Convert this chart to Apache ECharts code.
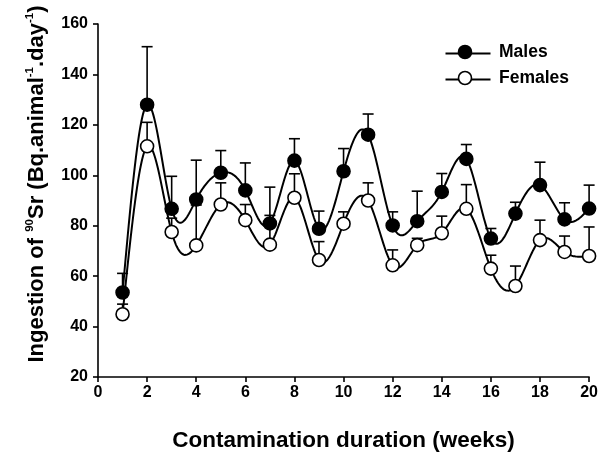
<!DOCTYPE html>
<html>
<head>
<meta charset="utf-8">
<style>
  html, body { margin: 0; padding: 0; background: #fff; }
  #chart { width: 601px; height: 457px; }
</style>
<script src="https://cdn.jsdelivr.net/npm/echarts@6/dist/echarts.min.js"></script>
</head>
<body>
<div id="chart"></div>
<script>
// Weekly 90Sr ingestion (mean and upper standard error) for male and female animals
var weeks = [1, 2, 3, 4, 5, 6, 7, 8, 9, 10, 11, 12, 13, 14, 15, 16, 17, 18, 19, 20];
var malesMean = [53.5, 128, 86.7, 90.4, 101, 94, 80.9, 105.8, 78.8, 101.6, 116.1, 80.1, 81.8, 93.4, 106.5, 74.9, 84.8, 96.1, 82.5, 86.8];
var malesErr = [7.6, 23, 12.9, 15.6, 8.8, 10.9, 14.4, 8.7, 7, 9, 8.2, 5.4, 11.9, 7.3, 5.7, 4, 4.5, 9.1, 6.6, 9.3];
var femalesMean = [44.9, 111.5, 77.5, 72.2, 88.4, 82.2, 72.5, 91.1, 66.4, 80.8, 90, 64.3, 72.3, 77, 86.7, 63, 56.1, 74.3, 69.6, 68];
var femalesErr = [4, 9.5, 5.5, 16, 8.6, 6.2, 11.6, 9.5, 7.3, 4.7, 7, 6.1, 2.7, 6.8, 9.6, 5.3, 7.9, 7.9, 6.3, 11.5];
var xTicks = [0, 2, 4, 6, 8, 10, 12, 14, 16, 18, 20];
var yTicks = [20, 40, 60, 80, 100, 120, 140, 160];

var FONT = '"Liberation Sans", Arial, sans-serif';

function pairs(xs, ys) {
  return xs.map(function (x, i) { return [x, ys[i]]; });
}
function triples(xs, ys, es) {
  return xs.map(function (x, i) { return [x, ys[i], es[i]]; });
}

// Natural cubic spline through the (x, y) points, sampled finely for drawing
function splineSamples(xs, ys, steps) {
  var n = xs.length;
  var h = [], alpha = [], l = [1], mu = [0], z = [0], c = new Array(n).fill(0);
  for (var i = 0; i < n - 1; i++) h[i] = xs[i + 1] - xs[i];
  for (i = 1; i < n - 1; i++) {
    alpha[i] = 3 / h[i] * (ys[i + 1] - ys[i]) - 3 / h[i - 1] * (ys[i] - ys[i - 1]);
  }
  for (i = 1; i < n - 1; i++) {
    l[i] = 2 * (xs[i + 1] - xs[i - 1]) - h[i - 1] * mu[i - 1];
    mu[i] = h[i] / l[i];
    z[i] = (alpha[i] - h[i - 1] * z[i - 1]) / l[i];
  }
  l[n - 1] = 1; z[n - 1] = 0;
  var b = [], d = [];
  for (var j = n - 2; j >= 0; j--) {
    c[j] = z[j] - mu[j] * c[j + 1];
    b[j] = (ys[j + 1] - ys[j]) / h[j] - h[j] * (c[j + 1] + 2 * c[j]) / 3;
    d[j] = (c[j + 1] - c[j]) / (3 * h[j]);
  }
  var out = [];
  for (j = 0; j < n - 1; j++) {
    for (var s = 0; s < steps; s++) {
      var t = h[j] * s / steps;
      out.push([xs[j] + t, ys[j] + b[j] * t + c[j] * t * t + d[j] * t * t * t]);
    }
  }
  out.push([xs[n - 1], ys[n - 1]]);
  return out;
}

function curveSeries(name, means) {
  var samples = splineSamples(weeks, means, 24);
  return {
    name: name,
    type: 'custom',
    silent: true,
    z: 2,
    data: pairs(weeks, means),
    renderItem: function (params, api) {
      if (params.dataIndex !== 0) return null;
      var pts = samples.map(function (p) { return api.coord(p); });
      return {
        type: 'polyline',
        shape: { points: pts },
        style: { stroke: '#000', lineWidth: 2, fill: null }
      };
    }
  };
}

function errorSeries(name, means, errs) {
  return {
    name: name,
    type: 'custom',
    silent: true,
    z: 3,
    data: triples(weeks, means, errs),
    renderItem: function (params, api) {
      var x = api.value(0), m = api.value(1), e = api.value(2);
      var p0 = api.coord([x, m]);
      var p1 = api.coord([x, m + e]);
      var half = 5.5;
      return {
        type: 'group',
        children: [
          { type: 'line', shape: { x1: p0[0], y1: p0[1], x2: p1[0], y2: p1[1] },
            style: { stroke: '#000', lineWidth: 1.6 } },
          { type: 'line', shape: { x1: p1[0] - half, y1: p1[1], x2: p1[0] + half, y2: p1[1] },
            style: { stroke: '#000', lineWidth: 1.6 } }
        ]
      };
    }
  };
}

function markerSeries(name, means, fill, z) {
  return {
    name: name,
    type: 'scatter',
    z: z,
    symbol: 'circle',
    symbolSize: 13,
    data: pairs(weeks, means),
    itemStyle: { color: fill, borderColor: '#000', borderWidth: 1.6, opacity: 1 },
    emphasis: { disabled: true }
  };
}

var chart = echarts.init(document.getElementById('chart'), null, { renderer: 'canvas' });

var legendItems = [
  { label: 'Males', fill: '#000', y: 52 },
  { label: 'Females', fill: '#fff', y: 78 }
];
var legendGraphics = [];
legendItems.forEach(function (it) {
  legendGraphics.push({
    type: 'line', left: 443, top: it.y - 1,
    shape: { x1: 0, y1: 0, x2: 45, y2: 0 },
    style: { stroke: '#000', lineWidth: 2 }, z: 10
  });
  legendGraphics.push({
    type: 'circle', shape: { cx: 465, cy: it.y, r: 6.5 },
    style: { fill: it.fill, stroke: '#000', lineWidth: 1.6 }, z: 11
  });
  legendGraphics.push({
    type: 'text', x: 499, y: it.y,
    style: { text: it.label, font: 'bold 17.5px ' + FONT, fill: '#000',
             textAlign: 'left', textVerticalAlign: 'middle' }, z: 11
  });
});

var option = {
  animation: false,
  backgroundColor: '#fff',
  grid: { left: 98, right: 11, top: 24, bottom: 79, containLabel: false },
  xAxis: {
    type: 'value',
    min: 0, max: 20, interval: 2,
    axisLine: { show: true, onZero: false, lineStyle: { color: '#000', width: 1.6 } },
    axisTick: { show: true, inside: false, length: 5, lineStyle: { color: '#000', width: 1.6 } },
    axisLabel: { color: '#000', fontFamily: FONT, fontWeight: 'bold', fontSize: 16, margin: 8,
                 formatter: function (v) { return xTicks.indexOf(v) >= 0 ? String(v) : ''; } },
    splitLine: { show: false },
    name: 'Contamination duration (weeks)',
    nameLocation: 'middle',
    nameGap: 52,
    nameTextStyle: { color: '#000', fontFamily: FONT, fontWeight: 'bold', fontSize: 22.5 }
  },
  yAxis: {
    type: 'value',
    min: 20, max: 160, interval: 20,
    axisLine: { show: true, onZero: false, lineStyle: { color: '#000', width: 1.6 } },
    axisTick: { show: true, inside: false, length: 5, lineStyle: { color: '#000', width: 1.6 } },
    axisLabel: { color: '#000', fontFamily: FONT, fontWeight: 'bold', fontSize: 16, margin: 10,
                 formatter: function (v) { return yTicks.indexOf(v) >= 0 ? String(v) : ''; } },
    splitLine: { show: false }
  },
  graphic: [{
    type: 'text',
    x: 37, y: 184,
    rotation: Math.PI / 2,
    style: {
      text: '{a|Ingestion of }{s|90}{a|Sr (Bq.animal}{s|-1}{a|.day}{s|-1}{a|)}',
      textAlign: 'center',
      textVerticalAlign: 'middle',
      fill: '#000',
      rich: {
        a: { fontFamily: FONT, fontWeight: 'bold', fontSize: 22, lineHeight: 26, fill: '#000' },
        s: { fontFamily: FONT, fontWeight: 'bold', fontSize: 11.5, lineHeight: 26, verticalAlign: 'top', padding: [0, 0, 11, 0], fill: '#000' }
      }
    },
    z: 10
  }].concat(legendGraphics),
  series: [
    curveSeries('Females curve', femalesMean),
    curveSeries('Males curve', malesMean),
    errorSeries('Females error', femalesMean, femalesErr),
    errorSeries('Males error', malesMean, malesErr),
    markerSeries('Females', femalesMean, '#fff', 5),
    markerSeries('Males', malesMean, '#000', 6)
  ]
};

chart.setOption(option);
</script>
</body>
</html>
